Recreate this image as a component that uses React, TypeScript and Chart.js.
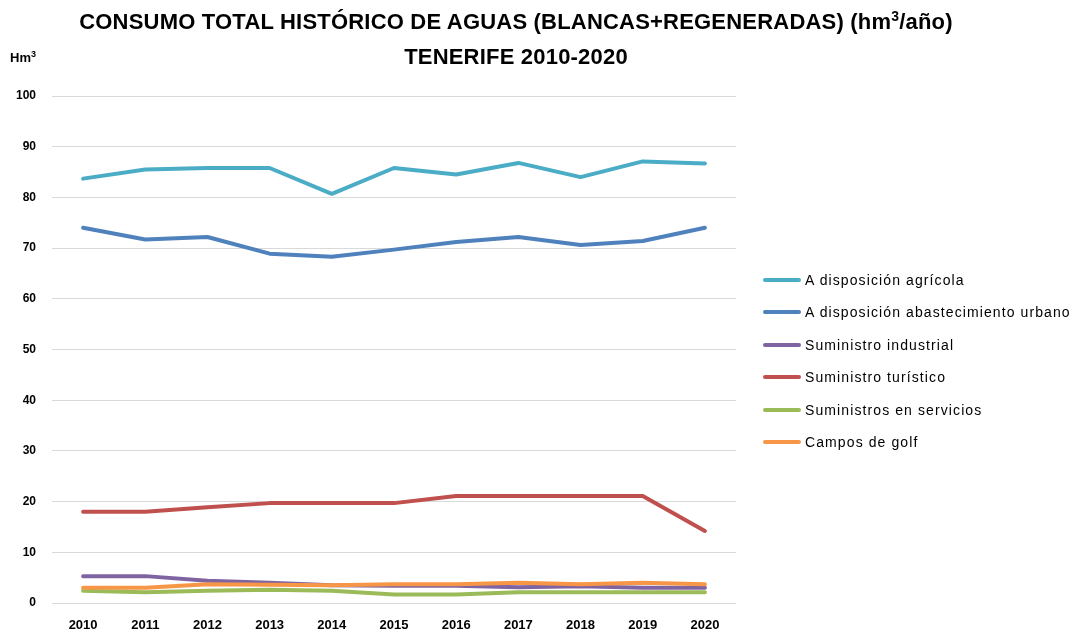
import React, { useEffect, useRef } from "react";
import { Chart, registerables } from "chart.js";

Chart.register(...registerables);

const years = ["2010", "2011", "2012", "2013", "2014", "2015", "2016", "2017", "2018", "2019", "2020"];
const agricola = [83.7, 85.5, 85.8, 85.8, 80.7, 85.8, 84.5, 86.8, 84.0, 87.1, 86.7];
const urbano = [74.0, 71.7, 72.2, 68.9, 68.3, 69.7, 71.2, 72.2, 70.6, 71.4, 74.0];
const industrial = [5.3, 5.3, 4.4, 4.0, 3.5, 3.4, 3.4, 3.1, 3.3, 3.0, 3.0];
const turistico = [18.0, 18.0, 18.9, 19.7, 19.7, 19.7, 21.1, 21.1, 21.1, 21.1, 14.2];
const servicios = [2.4, 2.1, 2.4, 2.6, 2.4, 1.7, 1.7, 2.1, 2.1, 2.1, 2.1];
const golf = [3.0, 3.0, 3.7, 3.6, 3.5, 3.7, 3.7, 4.0, 3.7, 4.0, 3.7];

const seriesNames = [
  "A disposición agrícola",
  "A disposición abastecimiento urbano",
  "Suministro industrial",
  "Suministro turístico",
  "Suministros en servicios",
  "Campos de golf",
];
const seriesColors = ["#4bacc6", "#4f81bd", "#8064a2", "#c0504d", "#9bbb59", "#f79646"];
const seriesData = [agricola, urbano, industrial, turistico, servicios, golf];

const yTicks = [0, 10, 20, 30, 40, 50, 60, 70, 80, 90, 100];

const FONT = "'Liberation Sans', Arial, sans-serif";

export default function App() {
  const canvasRef = useRef<HTMLCanvasElement | null>(null);

  useEffect(() => {
    document.body.style.margin = "0";
    const ctx = canvasRef.current;
    if (!ctx) return;
    const chart = new Chart(ctx, {
      type: "line",
      data: {
        labels: years,
        datasets: seriesData.map((d, i) => ({
          label: seriesNames[i],
          data: d,
          borderColor: seriesColors[i],
          backgroundColor: seriesColors[i],
          borderWidth: 4,
          pointRadius: 0,
          tension: 0,
          borderJoinStyle: "round" as const,
          borderCapStyle: "round" as const,
          order: seriesData.length - i,
        })),
      },
      options: {
        animation: false,
        responsive: false,
        maintainAspectRatio: false,
        layout: { padding: { top: 96, right: 340, left: 0, bottom: 0 } },
        plugins: {
          legend: { display: false },
          title: { display: false },
          tooltip: { enabled: false },
        },
        scales: {
          x: {
            offset: true,
            grid: { display: false, drawTicks: false },
            border: { display: false },
            ticks: {
              color: "#000",
              font: { family: FONT, size: 13, weight: "bold" },
              padding: 15,
              maxRotation: 0,
            },
            afterFit: (s: any) => {
              s.height = 32;
            },
          },
          y: {
            min: 0,
            max: 100,
            afterBuildTicks: (s: any) => {
              s.ticks = yTicks.map((v) => ({ value: v }));
            },
            grid: { color: "#d9d9d9", lineWidth: 1, drawTicks: false },
            border: { display: false },
            ticks: {
              color: "#000",
              font: { family: FONT, size: 12, weight: "bold" },
              padding: 16,
            },
            afterFit: (s: any) => {
              s.width = 52;
            },
          },
        },
      },
    });
    return () => chart.destroy();
  }, []);

  return (
    <div style={{ position: "relative", width: 1076, height: 635, fontFamily: FONT, color: "#000" }}>
      <canvas ref={canvasRef} width={1076} height={635} style={{ position: "absolute", left: 0, top: 0 }} />
      <div
        style={{
          position: "absolute",
          left: 0,
          width: 1032,
          top: 4,
          textAlign: "center",
          fontWeight: "bold",
          fontSize: 22,
          lineHeight: "35px",
          letterSpacing: 0.2,
        }}
      >
        <div>
          CONSUMO TOTAL HISTÓRICO DE AGUAS (BLANCAS+REGENERADAS) (hm<sup style={{ fontSize: 14, lineHeight: 0 }}>3</sup>/año)
        </div>
        <div>TENERIFE 2010-2020</div>
      </div>
      <div style={{ position: "absolute", left: 10, top: 50, fontWeight: "bold", fontSize: 13 }}>
        Hm<sup style={{ fontSize: 9, lineHeight: 0 }}>3</sup>
      </div>
      {seriesNames.map((n, i) => (
        <div
          key={n}
          style={{
            position: "absolute",
            left: 763,
            top: 270 + i * 32.4,
            height: 20,
            display: "flex",
            alignItems: "center",
            whiteSpace: "nowrap",
          }}
        >
          <div style={{ width: 38, height: 4, background: seriesColors[i], borderRadius: 2, marginRight: 4 }} />
          <span style={{ fontSize: 14, letterSpacing: 1.1 }}>{n}</span>
        </div>
      ))}
    </div>
  );
}
